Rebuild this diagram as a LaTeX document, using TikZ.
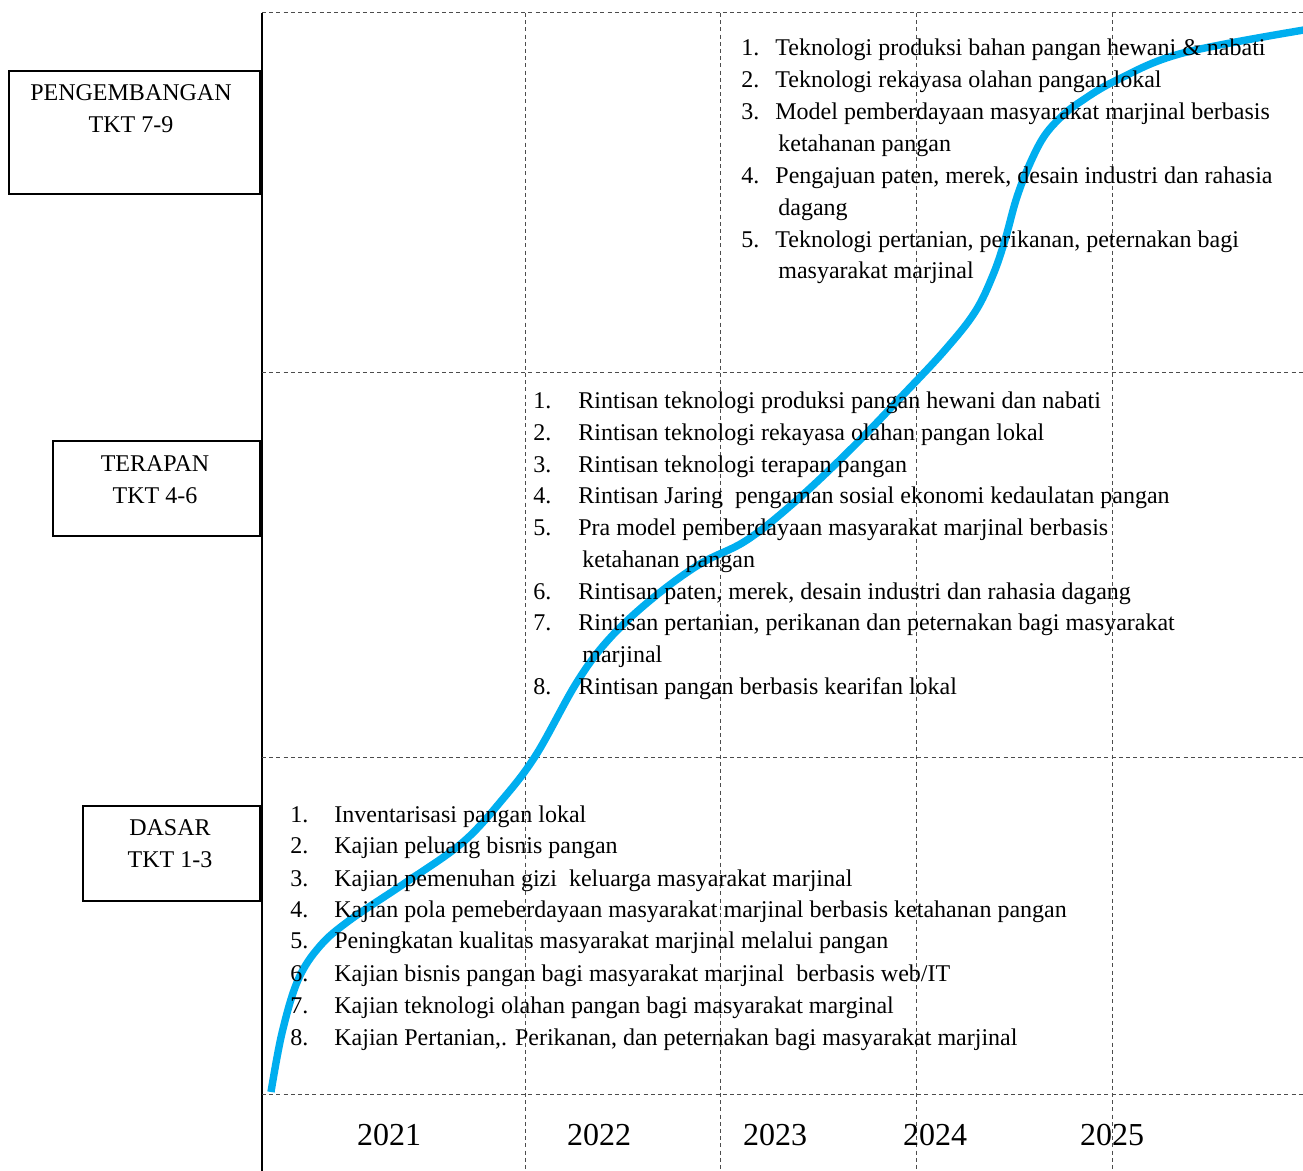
\documentclass[tikz,border=0pt]{standalone}
\usepackage{fontspec}
\setmainfont{Liberation Serif}
\definecolor{curveblue}{RGB}{0,174,239}
\begin{document}
\begin{tikzpicture}[x=0.5pt,y=-0.5pt,
  gridline/.style={draw=black!70, line width=0.5pt, dash pattern=on 2pt off 1.6pt},
  axisline/.style={draw=black, line width=0.75pt},
  levelbox/.style={draw=black, line width=1pt, inner sep=0pt},
  levellabel/.style={align=center, inner sep=0pt, font=\fontsize{12}{16}\selectfont},
  item/.style={anchor=base west, inner sep=0pt, font=\fontsize{12}{14}\selectfont},
  yearlabel/.style={inner sep=0pt, font=\fontsize{16}{18}\selectfont},
  scurve/.style={draw=curveblue, line width=3.7pt}]
\useasboundingbox (0,0) rectangle (1303,1171);

% grid
\coordinate (axtop) at (262,13);
\coordinate (axbot) at (262,1171);
\draw[axisline] (axtop) -- (axbot);
\foreach \yy/\nm in {13/ha,373/hb,758/hc,1094/hd}{
  \coordinate (\nm l) at (262,\yy);
  \coordinate (\nm r) at (1303,\yy);
  \draw[gridline] (\nm l) -- (\nm r);
}
\foreach \xx/\nm in {525/va,720/vb,916/vc,1112/vd}{
  \coordinate (\nm t) at (\xx,13);
  \coordinate (\nm b) at (\xx,1171);
  \draw[gridline] (\nm t) -- (\nm b);
}

% S-curve (under the texts)
\draw[scurve] plot[smooth, tension=0.6] coordinates {
 (271,1092) (282,1033) (298,980) (320,946) (350,920) (405,883) (462,843)
 (502,800) (536,755) (577,682) (610,638) (653,598) (700,564) (747,540)
 (797,500) (853,447) (903,395) (945,350) (975,312) (993,275) (1005,240)
 (1016,200) (1028,168) (1043,138) (1060,118) (1080,102) (1117,80) (1183,53) (1310,29)};

% level boxes
\node[levelbox, minimum width=125.5pt, minimum height=61.5pt] (box1) at (134.5,132.5) {};
\node[levellabel] (lab1) at (131,109) {PENGEMBANGAN\\TKT 7-9};
\node[levelbox, minimum width=103.5pt, minimum height=47.5pt] (box2) at (156.5,488.5) {};
\node[levellabel] (lab2) at (155,480) {TERAPAN\\TKT 4-6};
\node[levelbox, minimum width=88.5pt, minimum height=47.5pt] (box3) at (171.5,853.5) {};
\node[levellabel] (lab3) at (170,844) {DASAR\\TKT 1-3};

% top list
\foreach \n/\yy in {1/56,2/88,3/120,4/184,5/248}{
  \node[item] (tn\n) at (741,\yy) {\n.};
}
\node[item] (tt1) at (775,56) {Teknologi produksi bahan pangan hewani \& nabati};
\node[item] (tt2) at (775,88) {Teknologi rekayasa olahan pangan lokal};
\node[item] (tt3) at (775,120) {Model pemberdayaan masyarakat marjinal berbasis};
\node[item] (tc3) at (778,152) {ketahanan pangan};
\node[item] (tt4) at (775,184) {Pengajuan paten, merek, desain industri dan rahasia};
\node[item] (tc4) at (778,216) {dagang};
\node[item] (tt5) at (775,248) {Teknologi pertanian, perikanan, peternakan bagi};
\node[item] (tc5) at (778,279) {masyarakat marjinal};

% middle list
\foreach \n/\yy in {1/409,2/441,3/473,4/504,5/536,6/600,7/631,8/695}{
  \node[item] (mn\n) at (533,\yy) {\n.};
}
\node[item] (mt1) at (578,409) {Rintisan teknologi produksi pangan hewani dan nabati};
\node[item] (mt2) at (578,441) {Rintisan teknologi rekayasa olahan pangan lokal};
\node[item] (mt3) at (578,473) {Rintisan teknologi terapan pangan};
\node[item] (mt4) at (578,504) {Rintisan Jaring\ \ pengaman sosial ekonomi kedaulatan pangan};
\node[item] (mt5) at (578,536) {Pra model pemberdayaan masyarakat marjinal berbasis};
\node[item] (mc5) at (582,568) {ketahanan pangan};
\node[item] (mt6) at (578,600) {Rintisan paten, merek, desain industri dan rahasia dagang};
\node[item] (mt7) at (578,631) {Rintisan pertanian, perikanan dan peternakan bagi masyarakat};
\node[item] (mc7) at (582,663) {marjinal};
\node[item] (mt8) at (578,695) {Rintisan pangan berbasis kearifan lokal};

% bottom list
\foreach \n/\yy in {1/823,2/854,3/886,4/917,5/949,6/981,7/1013,8/1045}{
  \node[item] (bn\n) at (290,\yy) {\n.};
}
\node[item] (bt1) at (334,823) {Inventarisasi pangan lokal};
\node[item] (bt2) at (334,854) {Kajian peluang bisnis pangan};
\node[item] (bt3) at (334,886) {Kajian pemenuhan gizi\ \ keluarga masyarakat marjinal};
\node[item] (bt4) at (334,917) {Kajian pola pemeberdayaan masyarakat marjinal berbasis ketahanan pangan};
\node[item] (bt5) at (334,949) {Peningkatan kualitas masyarakat marjinal melalui pangan};
\node[item] (bt6) at (334,981) {Kajian bisnis pangan bagi masyarakat marjinal\ \ berbasis web/IT};
\node[item] (bt7) at (334,1013) {Kajian teknologi olahan pangan bagi masyarakat marginal};
\node[item] (bt8) at (334,1045) {Kajian Pertanian,. Perikanan, dan peternakan bagi masyarakat marjinal};

% years
\node[yearlabel] (y2021) at (389,1135) {2021};
\node[yearlabel] (y2022) at (599,1135) {2022};
\node[yearlabel] (y2023) at (775,1135) {2023};
\node[yearlabel] (y2024) at (935,1135) {2024};
\node[yearlabel] (y2025) at (1112,1135) {2025};
\end{tikzpicture}
\end{document}
